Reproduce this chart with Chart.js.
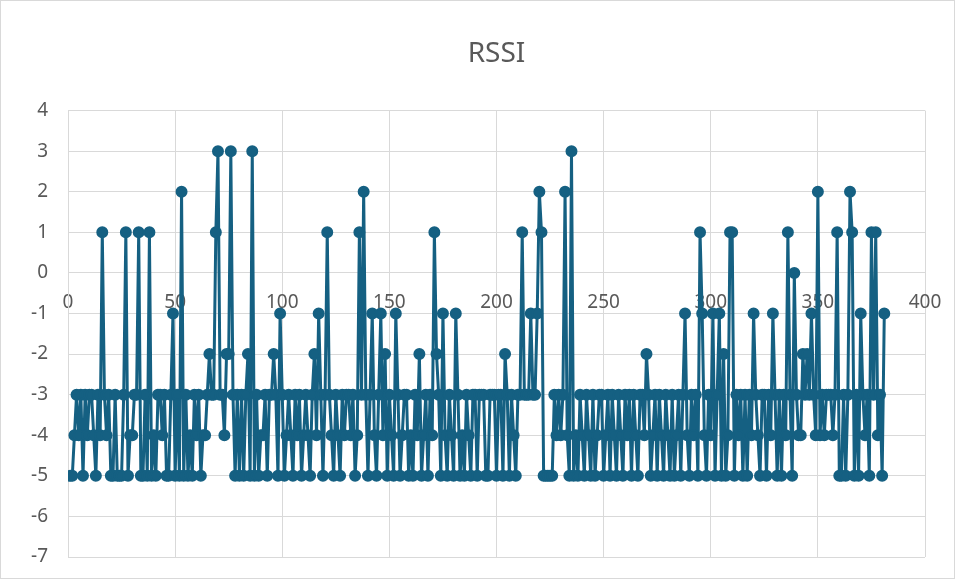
<!DOCTYPE html>
<html>
<head>
<meta charset="utf-8">
<title>RSSI</title>
<script src="https://cdn.jsdelivr.net/npm/chart.js@4/dist/chart.umd.min.js"></script>
<style>
  html, body { margin: 0; padding: 0; background: #fff; }
  .wrap { position: relative; width: 955px; height: 579px; }
  .wrap::after {
    content: ''; position: absolute; inset: 0;
    border: 1px solid #d9d9d9; pointer-events: none;
  }
  canvas { display: block; }
</style>
</head>
<body>
<div class="wrap"><canvas id="rssiChart" width="955" height="579"></canvas></div>
<script>
// signal strength readings, one per sample (sample 1..381)
const rssi = [
  -5,-5,-4,-3,-4,-3,-5,-3,-4,-3,-3,-4,-5,-3,-4,1,-3,-4,-3,-5,
  -5,-3,-5,-5,-5,-3,1,-5,-4,-4,-3,-3,1,-5,-5,-3,-5,1,-5,-4,
  -5,-3,-3,-4,-3,-5,-5,-3,-1,-5,-3,-5,2,-5,-3,-5,-4,-5,-3,-4,
  -3,-5,-4,-4,-3,-2,-3,-3,1,3,-3,-3,-4,-2,-2,3,-3,-5,-3,-5,
  -3,-5,-3,-2,-5,3,-5,-3,-5,-4,-4,-3,-5,-3,-3,-2,-3,-5,-1,-3,
  -5,-4,-3,-4,-5,-3,-4,-3,-5,-4,-3,-4,-5,-3,-2,-4,-1,-3,-5,-3,
  1,-3,-4,-5,-3,-4,-5,-3,-4,-3,-3,-4,-3,-5,-4,1,-3,2,-3,-5,
  -3,-1,-4,-5,-3,-1,-4,-2,-5,-3,-4,-5,-1,-3,-5,-4,-3,-3,-5,-4,
  -5,-3,-4,-2,-5,-4,-3,-5,-3,-4,1,-2,-3,-5,-1,-4,-5,-3,-4,-5,
  -1,-3,-5,-4,-5,-3,-4,-5,-3,-3,-5,-3,-3,-3,-5,-5,-3,-3,-3,-5,
  -3,-3,-5,-2,-3,-5,-3,-4,-5,-3,-3,1,-3,-3,-3,-1,-3,-3,-1,2,
  1,-5,-5,-5,-5,-5,-3,-4,-3,-4,-3,2,-4,-5,3,-5,-4,-5,-3,-4,
  -5,-3,-4,-5,-3,-5,-4,-3,-3,-5,-4,-3,-5,-3,-4,-5,-3,-4,-5,-3,
  -4,-3,-5,-3,-4,-5,-3,-3,-4,-2,-3,-5,-4,-3,-5,-3,-4,-5,-3,-4,
  -5,-3,-5,-4,-3,-5,-3,-1,-4,-5,-3,-4,-3,-5,1,-1,-4,-5,-3,-4,
  -1,-5,-3,-1,-5,-2,-5,-4,1,1,-5,-3,-4,-3,-5,-3,-5,-3,-4,-1,
  -3,-4,-5,-3,-3,-5,-3,-4,-1,-3,-5,-3,-5,-3,-4,1,-3,-5,0,-3,
  -4,-4,-2,-3,-2,-3,-1,-3,-4,2,-4,-3,-4,-3,-3,-3,-4,-3,1,-5,
  -5,-3,-5,-3,2,1,-5,-3,-5,-1,-3,-4,-3,-5,1,-3,1,-4,-3,-5,-1
];

const xTicks = [0, 50, 100, 150, 200, 250, 300, 350, 400];
const yTicks = [-7, -6, -5, -4, -3, -2, -1, 0, 1, 2, 3, 4];

const lineColor = '#156082';
const gridColor = '#d9d9d9';
const textColor = '#595959';
const fontFamily = '"Noto Sans", "Open Sans", sans-serif';

const points = rssi.map((v, i) => ({ x: i + 1, y: v }));

const ctx = document.getElementById('rssiChart').getContext('2d');

// label gaps come from invisible tick marks, since ticks.padding
// also pads the chart area
new Chart(ctx, {
  type: 'scatter',
  data: {
    datasets: [{
      label: 'RSSI',
      data: points,
      showLine: true,
      borderColor: lineColor,
      backgroundColor: lineColor,
      borderWidth: 3,
      pointRadius: 5,
      pointBorderWidth: 2,
      pointBorderColor: lineColor,
      pointBackgroundColor: lineColor,
      tension: 0
    }]
  },
  options: {
    responsive: false,
    animation: false,
    layout: { padding: { left: 0, right: 30, top: 0, bottom: 22 } },
    plugins: {
      legend: { display: false },
      tooltip: { enabled: false },
      title: {
        display: true,
        fullSize: false,
        text: 'RSSI',
        color: textColor,
        font: { family: fontFamily, size: 28, weight: 'normal' },
        padding: { top: 37, bottom: 40 }
      }
    },
    scales: {
      x: {
        type: 'linear',
        position: { y: 0 },
        min: xTicks[0],
        max: xTicks[xTicks.length - 1],
        afterBuildTicks: (scale) => { scale.ticks = xTicks.map(v => ({ value: v })); },
        grid: { color: gridColor, lineWidth: 1, drawTicks: true, tickLength: 18, tickColor: 'rgba(0,0,0,0)' },
        border: { color: gridColor, width: 1 },
        ticks: {
          color: textColor,
          padding: 0,
          maxRotation: 0,
          font: { family: fontFamily, size: 19 }
        }
      },
      y: {
        type: 'linear',
        min: yTicks[0],
        max: yTicks[yTicks.length - 1],
        afterBuildTicks: (scale) => { scale.ticks = yTicks.map(v => ({ value: v })); },
        afterFit: (scale) => { scale.width = 68; },
        grid: { color: gridColor, lineWidth: 1, drawTicks: true, tickLength: 20, tickColor: 'rgba(0,0,0,0)' },
        border: { color: gridColor, width: 1 },
        ticks: {
          color: textColor,
          padding: 0,
          font: { family: fontFamily, size: 19 }
        }
      }
    }
  }
});
</script>
</body>
</html>
